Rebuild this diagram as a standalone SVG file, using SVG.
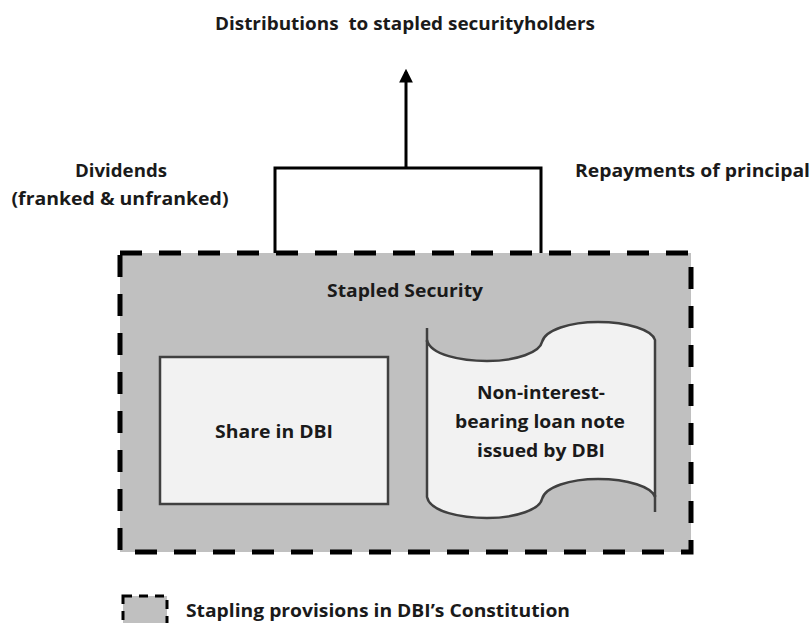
<svg xmlns="http://www.w3.org/2000/svg" width="811" height="623" viewBox="0 0 811 623">
<style>
text{font-family:"Open Sans","Liberation Sans",sans-serif;font-weight:700;fill:#1a1a1a;font-size:17px}
.c{text-anchor:middle}
.box{fill:#f2f2f2;stroke:#404040;stroke-width:2.5}
.conn{fill:none;stroke:#000;stroke-width:3}
</style>
<defs>
<marker id="ah" markerWidth="4.6" markerHeight="4.6" refX="3.5" refY="2.3" orient="auto" markerUnits="strokeWidth">
<path d="M0,0 L4.6,2.3 L0,4.6 Z" fill="#000"/>
</marker>
</defs>
<rect width="811" height="623" fill="#fff"/>
<text class="c" x="405" y="30" textLength="380" lengthAdjust="spacingAndGlyphs" xml:space="preserve">Distributions  to stapled securityholders</text>
<g id="stapled-security">
<rect x="120" y="253" width="571" height="299" fill="#c0c0c0" stroke="#000" stroke-width="5" stroke-dasharray="22,17"/>
<text class="c" x="405" y="297" textLength="156" lengthAdjust="spacingAndGlyphs">Stapled Security</text>
</g>
<g id="share">
<rect class="box" x="160" y="357" width="228" height="147"/>
<text class="c" x="274" y="438" textLength="118" lengthAdjust="spacingAndGlyphs">Share in DBI</text>
</g>
<g id="loan-note">
<path class="box" d="M427,340 C430,355 462,361 487,361 C517,361 540,352 542,342 C545,330 570,322 598,322 C628,322 652,330 655,340 L655,497 C652,487 628,479 598,479 C570,479 545,487 542,499 C540,509 517,518 487,518 C462,518 430,512 427,497 Z"/>
<path d="M427,328 L427,342 M655,495 L655,512" fill="none" stroke="#404040" stroke-width="2.5"/>
<text class="c" x="541" y="399" textLength="128" lengthAdjust="spacingAndGlyphs">Non-interest-</text>
<text class="c" x="540" y="428" textLength="170" lengthAdjust="spacingAndGlyphs">bearing loan note</text>
<text class="c" x="541" y="457" textLength="128" lengthAdjust="spacingAndGlyphs">issued by DBI</text>
</g>
<g id="connectors">
<path class="conn" d="M275,253 L275,168 L541,168 L541,253"/>
<path class="conn" d="M406,168 L406,72" marker-end="url(#ah)"/>
</g>
<g id="labels">
<text class="c" x="121" y="177" textLength="92" lengthAdjust="spacingAndGlyphs">Dividends</text>
<text class="c" x="120" y="205" textLength="217" lengthAdjust="spacingAndGlyphs">(franked &amp; unfranked)</text>
<text x="575" y="177" textLength="235" lengthAdjust="spacingAndGlyphs">Repayments of principal</text>
</g>
<g id="legend">
<rect x="123" y="596" width="44" height="40" fill="#c0c0c0" stroke="#000" stroke-width="3" stroke-dasharray="9,7"/>
<text x="186" y="617" textLength="384" lengthAdjust="spacingAndGlyphs">Stapling provisions in DBI’s Constitution</text>
</g>
</svg>
